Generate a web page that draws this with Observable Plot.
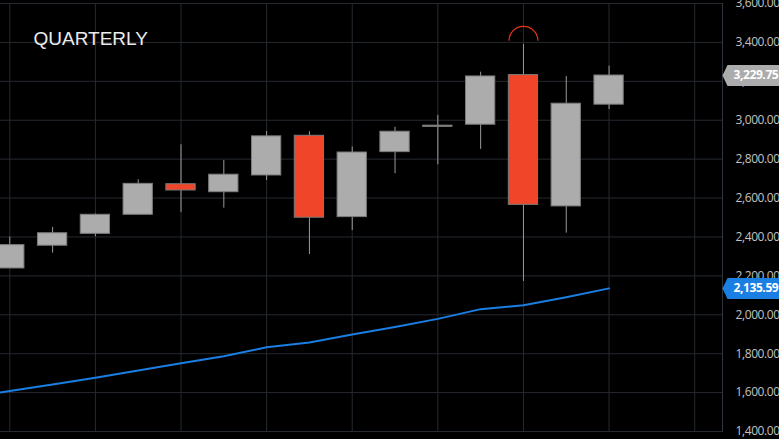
<!DOCTYPE html>
<html>
<head>
<meta charset="utf-8">
<script src="https://cdn.jsdelivr.net/npm/d3@7"></script>
<script src="https://cdn.jsdelivr.net/npm/@observablehq/plot@0.6"></script>
<style>
  html, body { margin: 0; padding: 0; background: #000; }
  #chart { width: 779px; height: 439px; overflow: hidden; }
  .yaxis text, .tagtext text { letter-spacing: -0.4px; }
</style>
</head>
<body>
<div id="chart"></div>
<script>
// ---- data ----
const title = "QUARTERLY";
const quarter = [0, 1, 2, 3, 4, 5, 6, 7, 8, 9, 10, 11, 12, 13, 14];
const open  = [2238, 2355, 2416, 2514, 2671, 2630, 2716, 2920, 2502, 2836, 2966, 2977, 3232, 2557, 3080];
const close = [2358, 2419, 2514, 2673, 2639, 2720, 2917, 2499, 2834, 2941, 2972, 3225, 2565, 3085, 3229.75];
const high  = [2399, 2449, 2518, 2694, 2874, 2793, 2942, 2941, 2862, 2964, 3025, 3247, 3390, 3225, 3278];
const low   = [2238, 2317, 2401, 2514, 2526, 2548, 2690, 2310, 2433, 2725, 2771, 2850, 2171, 2420, 3055];
// moving average (starts one quarter before the first visible candle)
const maQuarter = [-1, 0, 1, 2, 3, 4, 5, 6, 7, 8, 9, 10, 11, 12, 13, 14];
const maValue   = [1575, 1608, 1642, 1676, 1714, 1751, 1787, 1833, 1858, 1899, 1937, 1979, 2029, 2049, 2090, 2135.59];
const markedQuarter = [12];   // quarter flagged with the red arc marker
const yTicks = [1400, 1600, 1800, 2000, 2200, 2400, 2600, 2800, 3000, 3200, 3400, 3600];
const xGridTicks = [0, 2, 4, 6, 8, 10, 12, 14, 16];

// ---- tables ----
const candles = quarter.map((q, k) => ({q, open: open[k], close: close[k], high: high[k], low: low[k]}));
const ma = maQuarter.map((q, k) => ({q, v: maValue[k]}));
const marks = candles.filter(d => markedQuarter.includes(d.q));
const lastCandle = candles[candles.length - 1];
const lastMa = ma[ma.length - 1];

const RED = "#f04528", GRAY = "#acacac", BLUE = "#1a7ee3", GRID = "#252a30";
const half = 0.342;
const fmt = d3.format(",.2f");

const arcSymbol = {draw(ctx) { const r = 14.5; ctx.moveTo(-r, 0); ctx.arc(0, 0, r, Math.PI, 2 * Math.PI); }};
const tagSymbol = {draw(ctx) { ctx.moveTo(0, 0); ctx.lineTo(5, -10.5); ctx.lineTo(80, -10.5); ctx.lineTo(80, 10.5); ctx.lineTo(5, 10.5); ctx.closePath(); }};

const chart = Plot.plot({
  width: 779,
  height: 439,
  marginLeft: 0,
  marginRight: 57,
  marginTop: 3,
  marginBottom: 8,
  style: {background: "#000", fontFamily: "'Open Sans', sans-serif", overflow: "hidden"},
  x: {domain: [-0.217, 16.65], axis: null},
  y: {domain: [1400, 3600], axis: null},
  marks: [
    Plot.gridY({ticks: yTicks, stroke: GRID, strokeOpacity: 1}),
    Plot.gridX({ticks: xGridTicks, stroke: GRID, strokeOpacity: 1}),
    Plot.frame({anchor: "right", stroke: "#30353b"}),
    Plot.axisY({anchor: "right", ticks: yTicks, tickFormat: fmt, tickSize: 0, tickPadding: 13,
                fill: "#c2c2c2", fontSize: 12, label: null, className: "yaxis"}),
    Plot.line(ma, {x: "q", y: "v", stroke: BLUE, strokeWidth: 2, clip: true}),
    Plot.ruleX(candles, {x: "q", y1: "low", y2: "high", stroke: "#9a9a9a", strokeWidth: 1}),
    Plot.rect(candles, {
      x1: d => d.q - half, x2: d => d.q + half,
      y1: "open", y2: "close",
      fill: d => d.close >= d.open ? GRAY : RED,
      stroke: "#7c7c7c", strokeWidth: 1
    }),
    Plot.dot(marks, {x: "q", y: "high", symbol: arcSymbol, r: 10, fill: "none", stroke: "#e8361c", strokeWidth: 1.2, dy: -3.5}),
    Plot.text([title], {text: d => d, frameAnchor: "top-left", dx: 33, dy: 28, textAnchor: "start",
               fill: "#ececec", fontSize: 19, fontFamily: "'Liberation Sans', Arial, sans-serif"}),
    Plot.dot([lastCandle], {y: "close", frameAnchor: "right", symbol: tagSymbol, r: 10, fill: GRAY, stroke: "none"}),
    Plot.text([lastCandle], {y: "close", text: d => fmt(d.close), frameAnchor: "right", dx: 11, textAnchor: "start",
               fill: "#fff", fontWeight: "bold", fontSize: 12, className: "tagtext"}),
    Plot.dot([lastMa], {y: "v", frameAnchor: "right", symbol: tagSymbol, r: 10, fill: BLUE, stroke: "none"}),
    Plot.text([lastMa], {y: "v", text: d => fmt(d.v), frameAnchor: "right", dx: 11, textAnchor: "start",
               fill: "#fff", fontWeight: "bold", fontSize: 12, className: "tagtext"})
  ]
});
document.getElementById("chart").appendChild(chart);
</script>
</body>
</html>
